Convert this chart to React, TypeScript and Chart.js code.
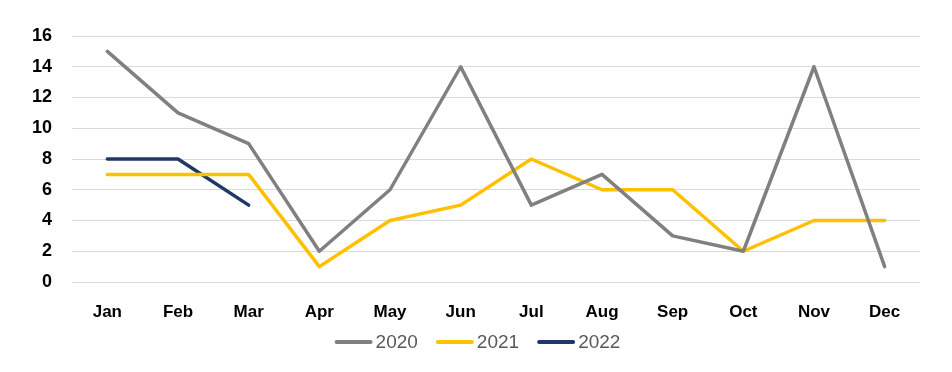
import React, { useEffect, useRef } from "react";
import { Chart, registerables } from "chart.js";

Chart.register(...registerables);

const months = ["Jan", "Feb", "Mar", "Apr", "May", "Jun", "Jul", "Aug", "Sep", "Oct", "Nov", "Dec"];
const values2020 = [15, 11, 9, 2, 6, 14, 5, 7, 3, 2, 14, 1];
const values2021 = [7, 7, 7, 1, 4, 5, 8, 6, 6, 2, 4, 4];
const values2022 = [8, 8, 5];

const colors = { s2020: "#808080", s2021: "#FFC000", s2022: "#1F3864" };

const bottomLegend = {
  id: "bottomLegend",
  afterDraw(chart: any) {
    const ctx = chart.ctx;
    const font = "19px 'Liberation Sans'";
    const lineLen = 38;
    const gapText = 3;
    const gapItem = 18;
    const y = 342;
    ctx.save();
    ctx.font = font;
    const items = chart.data.datasets.map((d: any) => ({
      label: d.label,
      color: d.borderColor,
      w: lineLen + gapText + ctx.measureText(d.label).width,
    }));
    const total = items.reduce((a: number, it: any) => a + it.w, 0) + gapItem * (items.length - 1);
    let x = 477.5 - total / 2;
    for (const it of items) {
      ctx.strokeStyle = it.color;
      ctx.lineWidth = 4;
      ctx.lineCap = "round";
      ctx.beginPath();
      ctx.moveTo(x + 2, y);
      ctx.lineTo(x + lineLen - 2, y);
      ctx.stroke();
      ctx.fillStyle = "#595959";
      ctx.textBaseline = "middle";
      ctx.textAlign = "left";
      ctx.fillText(it.label, x + lineLen + gapText, y + 1);
      x += it.w + gapItem;
    }
    ctx.restore();
  },
};

export default function App() {
  const ref = useRef<HTMLCanvasElement | null>(null);
  useEffect(() => {
    if (!ref.current) return;
    const mk = (label: string, data: number[], color: string) => ({
      label,
      data,
      borderColor: color,
      backgroundColor: color,
      borderWidth: 3.5,
      pointRadius: 0,
      pointHoverRadius: 0,
      tension: 0,
      borderJoinStyle: "round" as const,
      borderCapStyle: "round" as const,
    });
    const chart = new Chart(ref.current, {
      type: "line",
      data: {
        labels: months,
        datasets: [
          mk("2020", values2020, colors.s2020),
          mk("2021", values2021, colors.s2021),
          mk("2022", values2022, colors.s2022),
        ],
      },
      plugins: [bottomLegend],
      options: {
        animation: false,
        responsive: false,
        maintainAspectRatio: false,
        layout: { padding: { top: 36, right: 32, bottom: 48, left: 0 } },
        scales: {
          x: {
            offset: true,
            grid: { display: false, drawTicks: false },
            border: { display: false },
            ticks: {
              padding: 20,
              color: "#000000",
              font: { family: "Liberation Sans", size: 17, weight: "bold" },
              maxRotation: 0,
            },
            afterFit: (s: any) => { s.height = 42; },
          },
          y: {
            min: 0,
            max: 16,
            ticks: {
              stepSize: 2,
              padding: 20,
              color: "#000000",
              font: { family: "Liberation Sans", size: 18, weight: "bold" },
            },
            grid: { color: "#D9D9D9", lineWidth: 1, drawTicks: false },
            border: { display: false },
            afterFit: (s: any) => { s.width = 72; },
          },
        },
        plugins: {
          tooltip: { enabled: false },
          legend: { display: false },
        },
      },
    });
    return () => chart.destroy();
  }, []);
  return (
    <div style={{ position: "fixed", left: 0, top: 0, width: 952, height: 372, background: "#fff" }}>
      <canvas ref={ref} width={952} height={372} style={{ width: 952, height: 372 }} />
    </div>
  );
}
